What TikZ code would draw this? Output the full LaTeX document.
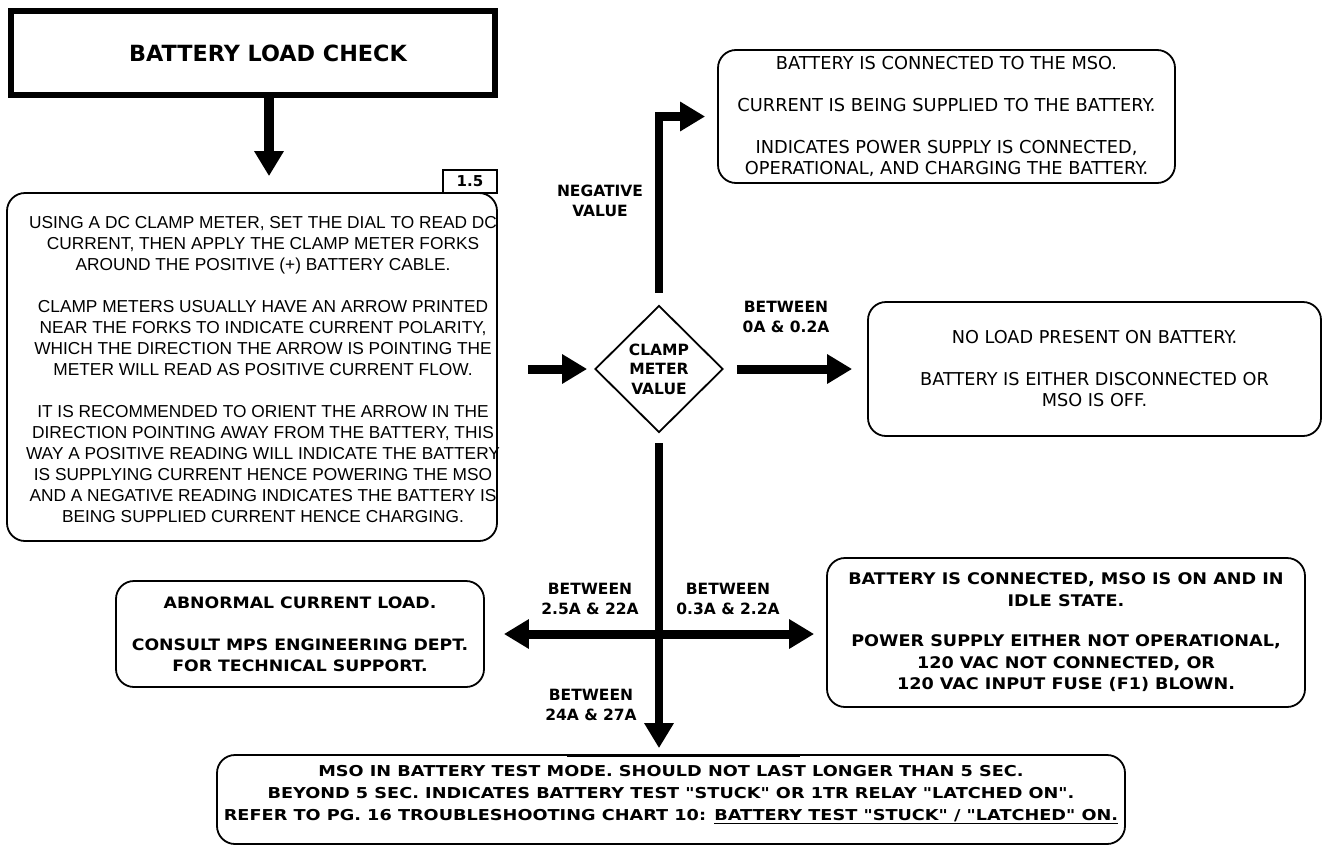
\documentclass[tikz,border=0pt]{standalone}
\usepackage{fontspec}
\usetikzlibrary{arrows.meta,shapes.geometric}
\newfontfamily\vfont{DejaVu Sans}
\newfontfamily\afont{Liberation Sans}
\newfontfamily\wfont[FakeStretch=1.18]{DejaVu Sans}
\newfontfamily\mfont[FakeStretch=1.1]{DejaVu Sans}

\tikzset{
  card/.style={draw, line width=1.8pt, rounded corners=18pt, inner sep=0pt, align=center},
  conn/.style={line width=9pt, -{Triangle[length=25pt,width=28pt]}},
  conntwo/.style={line width=9pt, {Triangle[length=25pt,width=28pt]}-{Triangle[length=25pt,width=28pt]}},
  lbl/.style={font={\vfont\bfseries\fontsize{15.5}{19.5}\selectfont}, align=center, inner sep=0pt},
}

\begin{document}
\begin{tikzpicture}[x=1pt,y=-1pt]
\useasboundingbox (0,0) rectangle (1324,846);

% title
\node[draw, line width=6pt, minimum width=484pt, minimum height=84pt, inner sep=0pt] (title) at (253,53) {};
\node[font={\vfont\bfseries\fontsize{22.3}{26}\selectfont}] (titletext) at (268,53) {BATTERY LOAD CHECK};

% instruction box with step tag
\node[card, minimum width=490pt, minimum height=348pt] (info) at (252,367) {};
\node[draw, line width=1.5pt, minimum width=54pt, minimum height=23pt, inner sep=0pt,
      font={\vfont\bfseries\fontsize{15}{18}\selectfont}] (tag) at (470,181.5) {1.5};
\node[align=center, font={\afont\fontsize{17.3}{21}\selectfont}] (infotext) at (263,369.5) {%
USING A DC CLAMP METER, SET THE DIAL TO READ DC\\
CURRENT, THEN APPLY THE CLAMP METER FORKS\\
AROUND THE POSITIVE (+) BATTERY CABLE.\\[21pt]
CLAMP METERS USUALLY HAVE AN ARROW PRINTED\\
NEAR THE FORKS TO INDICATE CURRENT POLARITY,\\
WHICH THE DIRECTION THE ARROW IS POINTING THE\\
METER WILL READ AS POSITIVE CURRENT FLOW.\\[21pt]
IT IS RECOMMENDED TO ORIENT THE ARROW IN THE\\
DIRECTION POINTING AWAY FROM THE BATTERY, THIS\\
WAY A POSITIVE READING WILL INDICATE THE BATTERY\\
IS SUPPLYING CURRENT HENCE POWERING THE MSO\\
AND A NEGATIVE READING INDICATES THE BATTERY IS\\
BEING SUPPLIED CURRENT HENCE CHARGING.};

% decision
\node[draw, diamond, shape aspect=1, minimum width=128pt, minimum height=127pt, inner sep=0pt, line width=1.8pt] (dia) at (659,369) {};
\node[lbl] (diatext) at (659,369) {CLAMP\\METER\\VALUE};

% outcome boxes
\node[card, minimum width=457pt, minimum height=133pt, font={\vfont\fontsize{17.8}{21}\selectfont}] (negbox) at (946.5,116.5) {%
BATTERY IS CONNECTED TO THE MSO.\\[21pt]
CURRENT IS BEING SUPPLIED TO THE BATTERY.\\[21pt]
INDICATES POWER SUPPLY IS CONNECTED,\\
OPERATIONAL, AND CHARGING THE BATTERY.};

\node[card, minimum width=453pt, minimum height=134pt, font={\vfont\fontsize{17.7}{21}\selectfont}] (noload) at (1094.5,369) {%
NO LOAD PRESENT ON BATTERY.\\[21pt]
BATTERY IS EITHER DISCONNECTED OR\\
MSO IS OFF.};

\node[card, minimum width=478pt, minimum height=149pt, font={\mfont\bfseries\fontsize{16}{21.5}\selectfont}] (idle) at (1066,632.5) {%
BATTERY IS CONNECTED, MSO IS ON AND IN\\
IDLE STATE.\\[19pt]
POWER SUPPLY EITHER NOT OPERATIONAL,\\
120 VAC NOT CONNECTED, OR\\
120 VAC INPUT FUSE (F1) BLOWN.};

\node[card, minimum width=368pt, minimum height=106pt, font={\mfont\bfseries\fontsize{15.7}{21}\selectfont}] (abn) at (300,634) {%
ABNORMAL CURRENT LOAD.\\[21pt]
CONSULT MPS ENGINEERING DEPT.\\
FOR TECHNICAL SUPPORT.};

\node[card, minimum width=908pt, minimum height=89pt] (bottom) at (671,799.5) {};
\draw[line width=3pt] (567,755) -- (800,755);
\node[align=center, font={\wfont\bfseries\fontsize{15}{22}\selectfont}] (bottomtext) at (671,795) {%
MSO IN BATTERY TEST MODE. SHOULD NOT LAST LONGER THAN 5 SEC.\\
BEYOND 5 SEC. INDICATES BATTERY TEST "STUCK" OR 1TR RELAY "LATCHED ON".\\
REFER TO PG. 16 TROUBLESHOOTING CHART 10: \underline{BATTERY TEST "STUCK" / "LATCHED" ON.}};

% connectors
\coordinate (tx) at (269,0);
\draw[conn, line width=10pt, shorten >=16pt] (title.south -| tx) -- (info.north -| tx);
\draw[conn] ([xshift=30pt]info.east |- dia.west) -- ([xshift=-7pt]dia.west);
\draw[conn, line width=8.5pt] ([yshift=12pt]dia.north) |- ([xshift=-12pt]negbox.west);
\draw[conn] ([xshift=13pt]dia.east) -- ([xshift=-15pt]noload.west);
\draw[conn, line width=8.5pt] ([yshift=-10pt]dia.south) -- ([yshift=6pt]dia.south |- bottom.north);
\draw[conntwo] ([xshift=19pt]abn.east) -- ([xshift=-12pt]idle.west |- abn.east);

% branch labels
\node[lbl] (lneg) at (600,201) {NEGATIVE\\VALUE};
\node[lbl] (lzero) at (786,317) {BETWEEN\\0A \& 0.2A};
\node[lbl] (lhigh) at (590,599) {BETWEEN\\2.5A \& 22A};
\node[lbl] (lidle) at (728,599) {BETWEEN\\0.3A \& 2.2A};
\node[lbl] (ltest) at (591,705) {BETWEEN\\24A \& 27A};
\end{tikzpicture}
\end{document}
